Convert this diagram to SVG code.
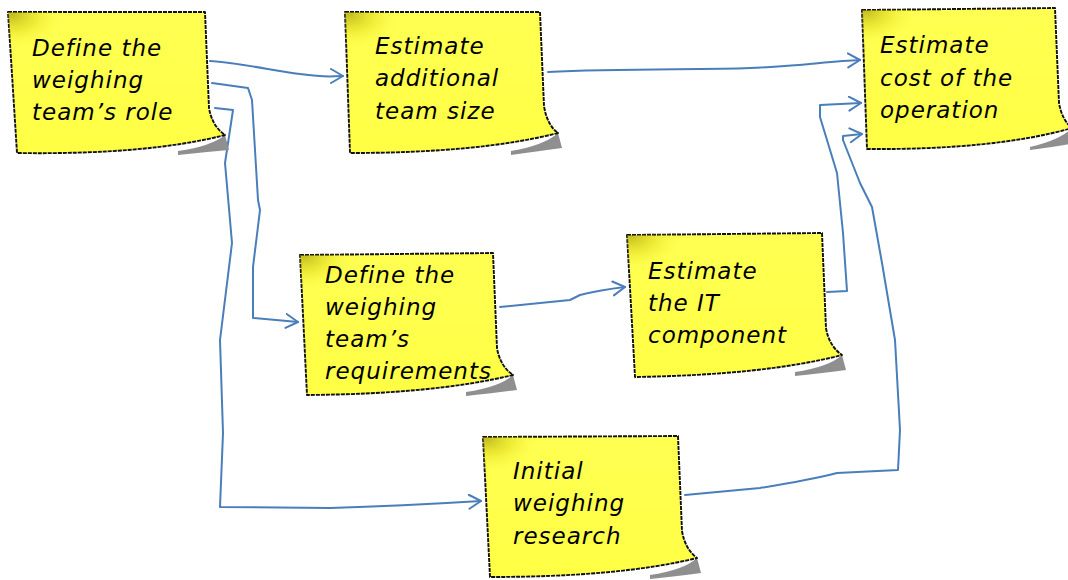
<svg xmlns="http://www.w3.org/2000/svg" width="1068" height="580" viewBox="0 0 1068 580">
<style>
.note{fill:url(#yel);stroke:#111;stroke-width:1.9;stroke-dasharray:4 1;stroke-linejoin:round}
.hl{fill:url(#corner);stroke:none}
.shadow{fill:#8f8f8f;filter:url(#blur)}
.lbl{font-family:"DejaVu Sans",sans-serif;font-style:italic;font-size:23px;letter-spacing:1px;fill:#000}
.conn{fill:none;stroke:#4a7ebb;stroke-width:2;stroke-linejoin:round;stroke-linecap:round}
</style>
<defs>
<linearGradient id="yel" x1="0" y1="0" x2="0" y2="1">
<stop offset="0" stop-color="#ffff52"/>
<stop offset="1" stop-color="#ffff45"/>
</linearGradient>
<radialGradient id="corner" cx="0.02" cy="0.02" r="0.25">
<stop offset="0" stop-color="#9a9000" stop-opacity="0.6"/>
<stop offset="0.5" stop-color="#d0c800" stop-opacity="0.3"/>
<stop offset="1" stop-color="#ffff50" stop-opacity="0"/>
</radialGradient>
<filter id="blur" x="-20%" y="-50%" width="140%" height="200%"><feGaussianBlur stdDeviation="0.7"/></filter>
<marker id="arr" markerUnits="userSpaceOnUse" markerWidth="16" markerHeight="18" refX="13" refY="8" orient="auto">
<path d="M1,1 L13,8 L1,15" fill="none" stroke="#4a7ebb" stroke-width="2" stroke-linecap="round" stroke-linejoin="round"/>
</marker>
</defs>
<rect width="1068" height="580" fill="#ffffff"/>

<g id="connectors">
<path class="conn" marker-end="url(#arr)" d="M210,61 C240,63 270,70 300,74 S330,76 343,76"/>
<path class="conn" marker-end="url(#arr)" d="M548,72 C620,68 700,70 750,68 S830,61 860,60"/>
<path class="conn" marker-end="url(#arr)" d="M212,83 L248,88 L252,100 L258,200 L260,210 L253,267 L253,318 L298,322"/>
<path class="conn" marker-end="url(#arr)" d="M215,108 L233,110 L225,163 L232,243 L220,340 L223,433 L220,507 L330,508 Q400,506 481,501"/>
<path class="conn" marker-end="url(#arr)" d="M500,307 L570,300 L580,295 Q600,290 625,287"/>
<path class="conn" marker-end="url(#arr)" d="M827,292 L847,291 L843,233 L837,173 L820,117 L820,105 L861,103"/>
<path class="conn" marker-end="url(#arr)" d="M685,495 L760,488 Q810,480 837,473 L898,470 L900,430 L895,340 L882,263 L872,207 L860,183 L843,140 L843,136 L862,134"/>
</g>

<g id="n1">
<path class="shadow" d="M178,151 Q212,146 225,135 L229,150 Q205,152 178,155 Z"/>
<path class="note" d="M8,12 L205,12 L209,108 Q212,126 225,135 Q147,155 17,153 Z"/>
<path class="hl" d="M8,12 L205,12 L209,108 Q212,126 225,135 Q147,155 17,153 Z"/>
<text class="lbl" x="32" y="56">Define the</text>
<text class="lbl" x="32" y="88">weighing</text>
<text class="lbl" x="32" y="120">team’s role</text>
</g>

<g id="n2">
<path class="shadow" d="M511,151 Q545,145 558,133 L562,148 Q540,151 511,155 Z"/>
<path class="note" d="M345,12 L540,12 L544,106 Q547,125 558,133 Q480,153 350,153 Z"/>
<path class="hl" d="M345,12 L540,12 L544,106 Q547,125 558,133 Q480,153 350,153 Z"/>
<text class="lbl" x="375" y="54">Estimate</text>
<text class="lbl" x="375" y="86">additional</text>
<text class="lbl" x="375" y="119">team size</text>
</g>

<g id="n3">
<path class="shadow" d="M1030,147 Q1060,140 1072,128 L1075,143 Q1055,147 1030,150 Z"/>
<path class="note" d="M862,10 L1055,8 L1059,103 Q1062,120 1072,128 Q995,150 867,149 Z"/>
<path class="hl" d="M862,10 L1055,8 L1059,103 Q1062,120 1072,128 Q995,150 867,149 Z"/>
<text class="lbl" x="880" y="53">Estimate</text>
<text class="lbl" x="880" y="86">cost of the</text>
<text class="lbl" x="880" y="118">operation</text>
</g>

<g id="n4">
<path class="shadow" d="M466,392 Q500,387 513,375 L517,390 Q495,393 466,396 Z"/>
<path class="note" d="M300,255 L493,253 L497,348 Q500,366 513,375 Q435,394 307,395 Z"/>
<path class="hl" d="M300,255 L493,253 L497,348 Q500,366 513,375 Q435,394 307,395 Z"/>
<text class="lbl" x="325" y="283">Define the</text>
<text class="lbl" x="325" y="315">weighing</text>
<text class="lbl" x="325" y="347">team’s</text>
<text class="lbl" x="325" y="379">requirements</text>
</g>

<g id="n5">
<path class="shadow" d="M795,372 Q829,367 842,355 L846,370 Q824,373 795,376 Z"/>
<path class="note" d="M627,235 L822,233 L826,328 Q829,346 842,355 Q765,375 635,377 Z"/>
<path class="hl" d="M627,235 L822,233 L826,328 Q829,346 842,355 Q765,375 635,377 Z"/>
<text class="lbl" x="648" y="279">Estimate</text>
<text class="lbl" x="648" y="311">the IT</text>
<text class="lbl" x="648" y="343">component</text>
</g>

<g id="n6">
<path class="shadow" d="M650,575 Q684,570 697,558 L701,573 Q679,576 650,579 Z"/>
<path class="note" d="M483,437 L678,436 L682,531 Q685,549 697,558 Q620,577 490,577 Z"/>
<path class="hl" d="M483,437 L678,436 L682,531 Q685,549 697,558 Q620,577 490,577 Z"/>
<text class="lbl" x="513" y="479">Initial</text>
<text class="lbl" x="513" y="511">weighing</text>
<text class="lbl" x="513" y="544">research</text>
</g>
</svg>
